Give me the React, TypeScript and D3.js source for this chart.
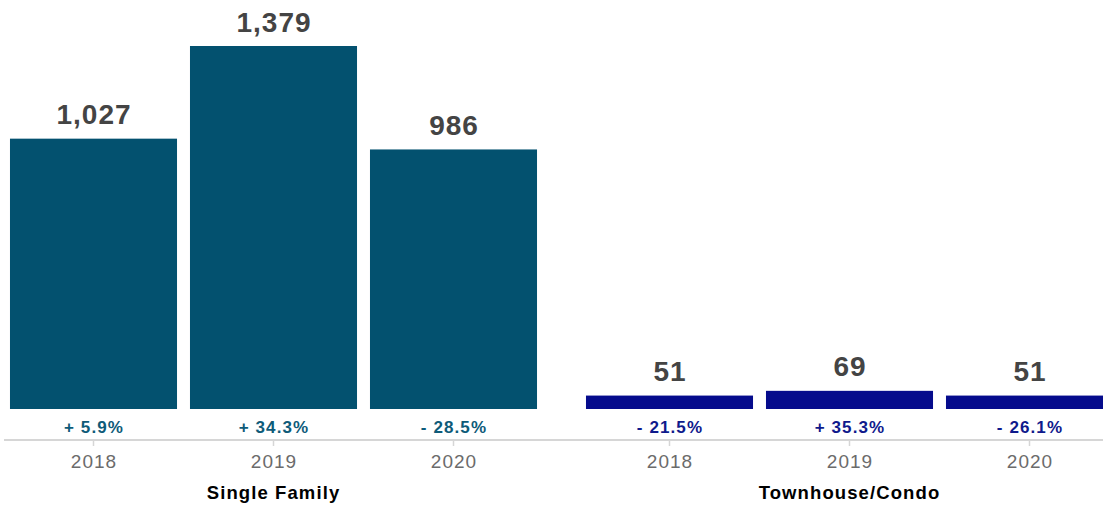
import React from "react";
import * as d3 from "d3";

const groups = ["Single Family", "Townhouse/Condo"];
const years = ["2018", "2019", "2020"];
const singleFamilyValues = [1027, 1379, 986];
const townhouseValues = [51, 69, 51];
const singleFamilyChange = ["+ 5.9%", "+ 34.3%", "- 28.5%"];
const townhouseChange = ["- 21.5%", "+ 35.3%", "- 26.1%"];

const groupValues = [singleFamilyValues, townhouseValues];
const groupChanges = [singleFamilyChange, townhouseChange];
const barColors = ["#03516f", "#050b8c"];
const changeColors = ["#0e5b79", "#0f1a8c"];

const W = 1103;
const H = 506;
const baseY = 409;
const axisY = 440;
const font = "'Liberation Sans', Arial, Helvetica, sans-serif";

export default function App() {
  const x0 = d3
    .scaleBand<string>()
    .domain(groups)
    .range([3.5, 1119.5])
    .paddingInner(0.0625)
    .paddingOuter(0);
  const x1 = d3
    .scaleBand<string>()
    .domain(years)
    .range([0, x0.bandwidth()])
    .paddingInner(0.072)
    .paddingOuter(0.036);
  const y = d3.scaleLinear().domain([0, 1379]).range([baseY, 46]);
  const fmt = d3.format(",");

  return (
    <svg
      width={W}
      height={H}
      style={{ position: "absolute", left: 0, top: 0, background: "#fff" }}
      fontFamily={font}
    >
      <line x1={4} x2={W} y1={axisY} y2={axisY} stroke="#d6d6d6" strokeWidth={2} />
      {groups.map((g, gi) => {
        const gx = x0(g) as number;
        return (
          <g key={g}>
            {years.map((yr, i) => {
              const v = groupValues[gi][i];
              const bx = gx + (x1(yr) as number);
              const cx = bx + x1.bandwidth() / 2;
              return (
                <g key={yr}>
                  <rect
                    x={bx}
                    y={y(v)}
                    width={x1.bandwidth()}
                    height={baseY - y(v)}
                    fill={barColors[gi]}
                  />
                  <text
                    x={cx + 0.5}
                    y={y(v) - 14.5}
                    textAnchor="middle"
                    fontSize={28}
                    fontWeight="bold"
                    letterSpacing={1}
                    fill="#444444"
                  >
                    {fmt(v)}
                  </text>
                  <text
                    x={cx + 0.5}
                    y={433}
                    textAnchor="middle"
                    fontSize={17}
                    fontWeight="bold"
                    letterSpacing={1.1}
                    fill={changeColors[gi]}
                  >
                    {groupChanges[gi][i]}
                  </text>
                  <line x1={cx} x2={cx} y1={axisY} y2={axisY + 6} stroke="#d6d6d6" strokeWidth={1.5} />
                  <text
                    x={cx + 0.5}
                    y={468}
                    textAnchor="middle"
                    fontSize={19}
                    letterSpacing={1}
                    fill="#6b6b6b"
                  >
                    {yr}
                  </text>
                </g>
              );
            })}
            <text
              x={gx + x0.bandwidth() / 2}
              y={499}
              textAnchor="middle"
              fontSize={18.5}
              fontWeight="bold"
              letterSpacing={1.1}
              fill="#000"
            >
              {g}
            </text>
          </g>
        );
      })}
    </svg>
  );
}
